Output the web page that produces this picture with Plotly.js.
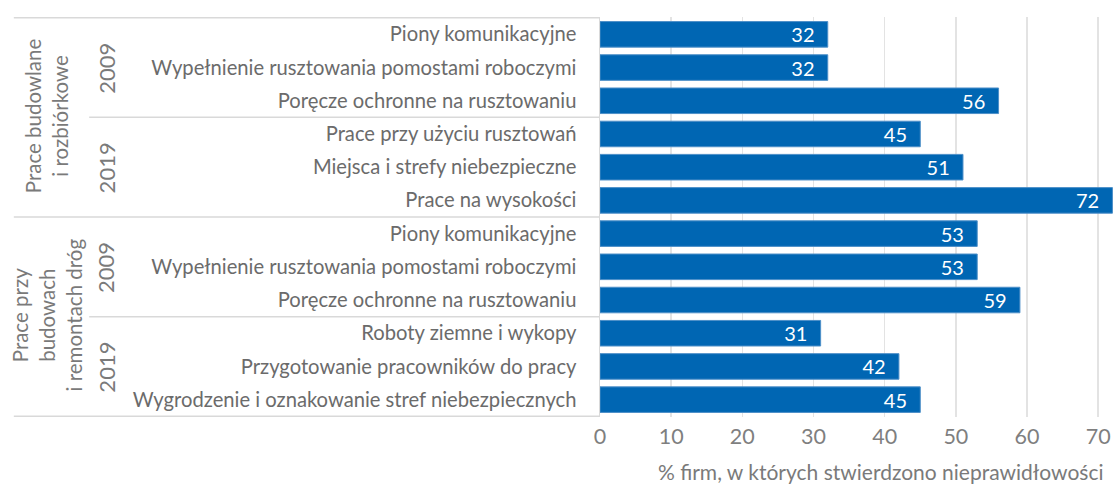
<!DOCTYPE html>
<html>
<head>
<meta charset="utf-8">
<script src="https://cdn.plot.ly/plotly-3.0.1.min.js"></script>
<style>html,body{margin:0;padding:0;background:#fff;}#chart{width:1116px;height:484px;}</style>
</head>
<body>
<div id="chart"></div>
<script>
const groups = ["Prace budowlane<br>i rozbiórkowe", "Prace przy<br>budowach<br>i remontach dróg"];
const years = ["2009", "2019"];
const labels = [
  "Piony komunikacyjne",
  "Wypełnienie rusztowania pomostami roboczymi",
  "Poręcze ochronne na rusztowaniu",
  "Prace przy użyciu rusztowań",
  "Miejsca i strefy niebezpieczne",
  "Prace na wysokości",
  "Piony komunikacyjne",
  "Wypełnienie rusztowania pomostami roboczymi",
  "Poręcze ochronne na rusztowaniu",
  "Roboty ziemne i wykopy",
  "Przygotowanie pracowników do pracy",
  "Wygrodzenie i oznakowanie stref niebezpiecznych"
];
const values = [32, 32, 56, 45, 51, 72, 53, 53, 59, 31, 42, 45];
const xTicks = [0, 10, 20, 30, 40, 50, 60, 70];
const xTitle = "% firm, w których stwierdzono nieprawidłowości";

const perYear = 3, perGroup = 6;
const ids = labels.map((l, i) => "g" + Math.floor(i / perGroup) + "y" + Math.floor((i % perGroup) / perYear) + "|" + l);

const FONT = "Lato, 'Open Sans', sans-serif";
const GRAY = "#d9d9d9";

const trace = {
  type: "bar",
  orientation: "h",
  x: values,
  y: ids,
  marker: {color: "#0066b3", line: {color: "#4d8fc8", width: 1}},
  text: values.map(v => v + "\u00a0\u00a0"),
  textposition: "inside",
  insidetextanchor: "end",
  constraintext: "none",
  textfont: {family: FONT, size: 20, color: "#ffffff"},
  hoverinfo: "x+y",
  cliponaxis: false
};

const shapes = [];
const annotations = [];
const nGroups = groups.length;
for (let g = 0; g <= nGroups; g++) {
  shapes.push({type: "line", xref: "paper", yref: "y", x0: -1.136, x1: 0,
    y0: g * perGroup - 0.5, y1: g * perGroup - 0.5, line: {color: GRAY, width: 1.5}});
}
for (let g = 0; g < nGroups; g++) {
  shapes.push({type: "line", xref: "paper", yref: "y", x0: -0.99, x1: 0,
    y0: g * perGroup + perYear - 0.5, y1: g * perGroup + perYear - 0.5, line: {color: GRAY, width: 1.5}});
  annotations.push({xref: "paper", yref: "y", x: -1.072, y: g * perGroup + (perGroup - 1) / 2,
    text: groups[g], textangle: -90, showarrow: false, xanchor: "center", yanchor: "middle",
    yshift: 2,
    font: {family: FONT, size: 20.5, color: "#7a7a7a"}});
  for (let k = 0; k < years.length; k++) {
    annotations.push({xref: "paper", yref: "y", x: -0.957, y: g * perGroup + k * perYear + (perYear - 1) / 2,
      text: years[k], textangle: -90, showarrow: false, xanchor: "center", yanchor: "middle",
      yshift: -1,
      font: {family: FONT, size: 22, color: "#7a7a7a"}});
  }
}
annotations.push({xref: "paper", yref: "paper", x: 0.98, y: -0.135, xanchor: "right", yanchor: "middle",
  text: xTitle, showarrow: false, font: {family: FONT, size: 21, color: "#7a7a7a"}});

const layout = {
  width: 1116, height: 484,
  margin: {l: 600, r: 0, t: 17, b: 67, pad: 0},
  paper_bgcolor: "#ffffff", plot_bgcolor: "#ffffff",
  showlegend: false,
  bargap: 0.23,
  font: {family: FONT, color: "#7a7a7a"},
  xaxis: {
    range: [0, 72.5], tickmode: "array", tickvals: xTicks, ticktext: xTicks.map(String),
    showgrid: true, gridcolor: "#e3e3e3", gridwidth: 1.5, zeroline: false, showline: false,
    ticks: "", ticklabelstandoff: 4,
    tickfont: {family: FONT, size: 21.5, color: "#7f7f7f"}, fixedrange: true
  },
  yaxis: {
    type: "category", autorange: "reversed", tickmode: "array", tickvals: ids, ticktext: labels,
    showgrid: false, zeroline: false, showline: true, linecolor: GRAY, linewidth: 1.5,
    ticks: "", ticklabelstandoff: 18,
    tickfont: {family: FONT, size: 20.2, color: "#6b6b6b"}, fixedrange: true
  },
  shapes: shapes,
  annotations: annotations
};

Plotly.newPlot("chart", [trace], layout, {displayModeBar: false, staticPlot: true});
</script>
</body>
</html>
